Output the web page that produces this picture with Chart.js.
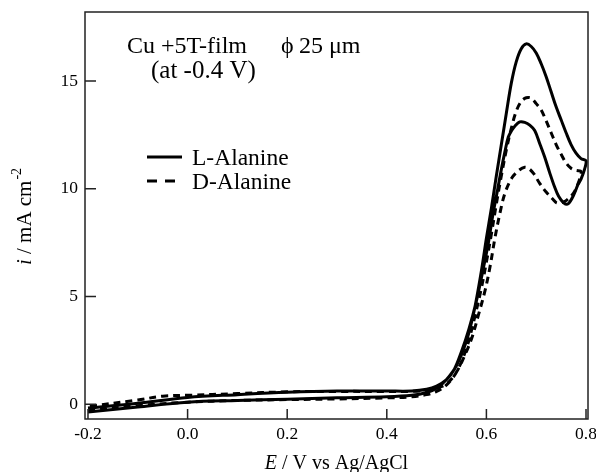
<!DOCTYPE html>
<html lang="en">
<head>
<meta charset="UTF-8">
<title>Cu +5T-film CV</title>
<script src="https://cdn.jsdelivr.net/npm/chart.js"></script>
<style>
  html, body { margin: 0; padding: 0; background: #fff; }
</style>
</head>
<body>
<canvas id="cv" width="596" height="472"></canvas>
<script>
// axis ranges and ticks
const xMin = -0.206, xMax = 0.804;
const yMin = -0.68, yMax = 18.2;
const xTicks = [-0.2, 0.0, 0.2, 0.4, 0.6, 0.8];
const yTicks = [0, 5, 10, 15];

// L-Alanine loop (forward scan then reverse), E / V and i / mA cm-2
const lAlaE = [-0.2, -0.1, 0.0, 0.1, 0.2, 0.3, 0.4, 0.45, 0.48, 0.5, 0.52, 0.54, 0.56, 0.575, 0.59, 0.6, 0.61,
  0.62, 0.63, 0.64, 0.65, 0.66, 0.67, 0.68, 0.69, 0.7, 0.71, 0.72, 0.73, 0.74, 0.75, 0.76, 0.77, 0.78, 0.79, 0.8,
  0.797, 0.79, 0.784, 0.775, 0.764, 0.755, 0.745, 0.737, 0.727, 0.717, 0.707, 0.697, 0.687, 0.677, 0.667, 0.657,
  0.651, 0.644, 0.637, 0.63, 0.622, 0.613, 0.604, 0.592, 0.58, 0.565, 0.55, 0.535, 0.52, 0.5, 0.48, 0.45, 0.4, 0.3,
  0.2, 0.1, 0.0, -0.1, -0.2];
const lAlaI = [-0.36, -0.12, 0.1, 0.18, 0.24, 0.3, 0.35, 0.42, 0.55, 0.75, 1.15, 1.8, 2.95, 4.3, 6.2, 7.7, 9.1,
  10.6, 12.05, 13.5, 14.9, 15.9, 16.5, 16.72, 16.6, 16.3, 15.8, 15.2, 14.5, 13.8, 13.2, 12.6, 12.05, 11.65, 11.4, 11.3,
  10.9, 10.45, 10.2, 9.7, 9.3, 9.35, 9.65, 10.08, 10.75, 11.47, 12.1, 12.7, 12.95, 13.08, 13.1, 12.9,
  12.71, 12.4, 11.7, 10.9, 9.9, 8.8, 7.5, 6.1, 4.8, 3.5, 2.45, 1.6, 1.15, 0.85, 0.7, 0.62, 0.62, 0.62,
  0.56, 0.45, 0.32, 0.05, -0.17];

// D-Alanine loop
const dAlaE = [-0.2, -0.1, 0.0, 0.1, 0.2, 0.3, 0.4, 0.45, 0.48, 0.5, 0.52, 0.54, 0.56, 0.575, 0.59, 0.6, 0.61,
  0.62, 0.63, 0.64, 0.65, 0.66, 0.67, 0.68, 0.69, 0.7, 0.71, 0.72, 0.73, 0.74, 0.75, 0.76, 0.77, 0.78, 0.79,
  0.785, 0.775, 0.76, 0.75, 0.741, 0.734, 0.72, 0.707, 0.695, 0.686, 0.677, 0.665, 0.651, 0.637, 0.627, 0.617,
  0.607, 0.597, 0.584, 0.571, 0.557, 0.54, 0.52, 0.5, 0.48, 0.45, 0.4, 0.3, 0.2, 0.1, 0.0, -0.05, -0.1, -0.2];
const dAlaI = [-0.3, -0.06, 0.1, 0.18, 0.22, 0.25, 0.3, 0.35, 0.45, 0.6, 0.9, 1.5, 2.6, 3.9, 5.4, 6.6, 7.9,
  9.3, 10.6, 11.8, 12.8, 13.6, 14.05, 14.22, 14.2, 13.95, 13.65, 13.15, 12.6, 12.05, 11.6, 11.2, 10.95, 10.85, 10.8,
  10.3, 9.8, 9.45, 9.35, 9.35, 9.5, 9.85, 10.25, 10.7, 10.92, 11.0, 10.85, 10.5, 9.78, 8.85, 7.7,
  6.35, 5.25, 4.15, 3.1, 2.3, 1.5, 0.95, 0.75, 0.65, 0.6, 0.6, 0.6, 0.58, 0.5, 0.42, 0.38, 0.2, -0.1];

const toPts = (xs, ys) => xs.map((x, k) => ({ x: x, y: ys[k] }));

const serif = "'Liberation Serif', 'Times New Roman', serif";

// box, inward ticks and text labels
const decor = {
  id: 'decor',
  afterDraw(chart) {
    const ctx = chart.ctx;
    const a = chart.chartArea;
    const xs = chart.scales.x, ys = chart.scales.y;
    ctx.save();
    ctx.strokeStyle = '#222';
    ctx.lineWidth = 1.5;
    ctx.strokeRect(a.left, a.top, a.right - a.left, a.bottom - a.top);
    ctx.beginPath();
    yTicks.forEach(v => {
      const p = ys.getPixelForValue(v);
      ctx.moveTo(a.left, p); ctx.lineTo(a.left + 11, p);
    });
    xTicks.forEach(v => {
      const p = xs.getPixelForValue(v);
      ctx.moveTo(p, a.bottom); ctx.lineTo(p, a.bottom - 10);
    });
    ctx.stroke();

    ctx.fillStyle = '#000';
    ctx.textBaseline = 'alphabetic';
    ctx.textAlign = 'left';
    ctx.font = '24px ' + serif;
    ctx.fillText('Cu +5T-film', 127, 53);
    ctx.fillText('\u03D5', 281, 53);
    ctx.fillText('25 \u03BCm', 299, 53);
    ctx.font = '25px ' + serif;
    ctx.fillText('(at -0.4 V)', 151, 78);

    // legend
    ctx.lineWidth = 3;
    ctx.strokeStyle = '#000';
    ctx.beginPath(); ctx.moveTo(147, 157); ctx.lineTo(182, 157); ctx.stroke();
    ctx.setLineDash([10, 8]);
    ctx.beginPath(); ctx.moveTo(147, 181); ctx.lineTo(182, 181); ctx.stroke();
    ctx.setLineDash([]);
    ctx.font = '23.5px ' + serif;
    ctx.fillText('L-Alanine', 192, 165);
    ctx.fillText('D-Alanine', 192, 189);

    // x title
    ctx.font = 'italic 20px ' + serif;
    const wE = ctx.measureText('E').width;
    ctx.font = '20px ' + serif;
    const rest = ' / V vs Ag/AgCl';
    const wR = ctx.measureText(rest).width;
    const x0 = (a.left + a.right) / 2 - (wE + wR) / 2;
    ctx.font = 'italic 20px ' + serif;
    ctx.fillText('E', x0, 469);
    ctx.font = '20px ' + serif;
    ctx.fillText(rest, x0 + wE, 469);

    // y title
    ctx.translate(31, 217);
    ctx.rotate(-Math.PI / 2);
    ctx.font = 'italic 21px ' + serif;
    const wi = ctx.measureText('i').width;
    ctx.font = '21px ' + serif;
    const mid = ' / mA cm';
    const wm = ctx.measureText(mid).width;
    ctx.font = '14px ' + serif;
    const ws = ctx.measureText('-2').width;
    const sx = -(wi + wm + ws) / 2;
    ctx.font = 'italic 21px ' + serif;
    ctx.fillText('i', sx, 0);
    ctx.font = '21px ' + serif;
    ctx.fillText(mid, sx + wi, 0);
    ctx.font = '14px ' + serif;
    ctx.fillText('-2', sx + wi + wm + 1, -10);
    ctx.restore();
  }
};

new Chart(document.getElementById('cv'), {
  type: 'scatter',
  data: {
    datasets: [
      {
        label: 'L-Alanine',
        data: toPts(lAlaE, lAlaI),
        showLine: true,
        borderColor: '#000',
        borderWidth: 3,
        tension: 0.35,
        pointRadius: 0
      },
      {
        label: 'D-Alanine',
        data: toPts(dAlaE, dAlaI),
        showLine: true,
        borderColor: '#000',
        borderWidth: 3,
        borderDash: [7, 5],
        tension: 0.35,
        pointRadius: 0
      }
    ]
  },
  options: {
    responsive: false,
    animation: false,
    layout: { padding: { top: 12, right: 8, left: 0, bottom: 0 } },
    plugins: { legend: { display: false }, tooltip: { enabled: false } },
    scales: {
      x: {
        type: 'linear',
        min: xMin,
        max: xMax,
        afterBuildTicks: s => { s.ticks = xTicks.map(v => ({ value: v })); },
        afterFit: s => { s.height = 53; s.paddingLeft = 0; s.paddingRight = 0; },
        grid: { display: false, drawTicks: false },
        border: { display: false },
        ticks: {
          font: { family: serif, size: 17.5 },
          color: '#000',
          padding: 5,
          maxRotation: 0,
          autoSkip: false,
          callback: v => v.toFixed(1)
        }
      },
      y: {
        type: 'linear',
        min: yMin,
        max: yMax,
        afterBuildTicks: s => { s.ticks = yTicks.map(v => ({ value: v })); },
        afterFit: s => { s.width = 85; s.paddingTop = 0; s.paddingBottom = 0; },
        grid: { display: false, drawTicks: false },
        border: { display: false },
        ticks: {
          font: { family: serif, size: 17.5 },
          color: '#000',
          padding: 7,
          autoSkip: false
        }
      }
    }
  },
  plugins: [decor]
});
</script>
</body>
</html>
